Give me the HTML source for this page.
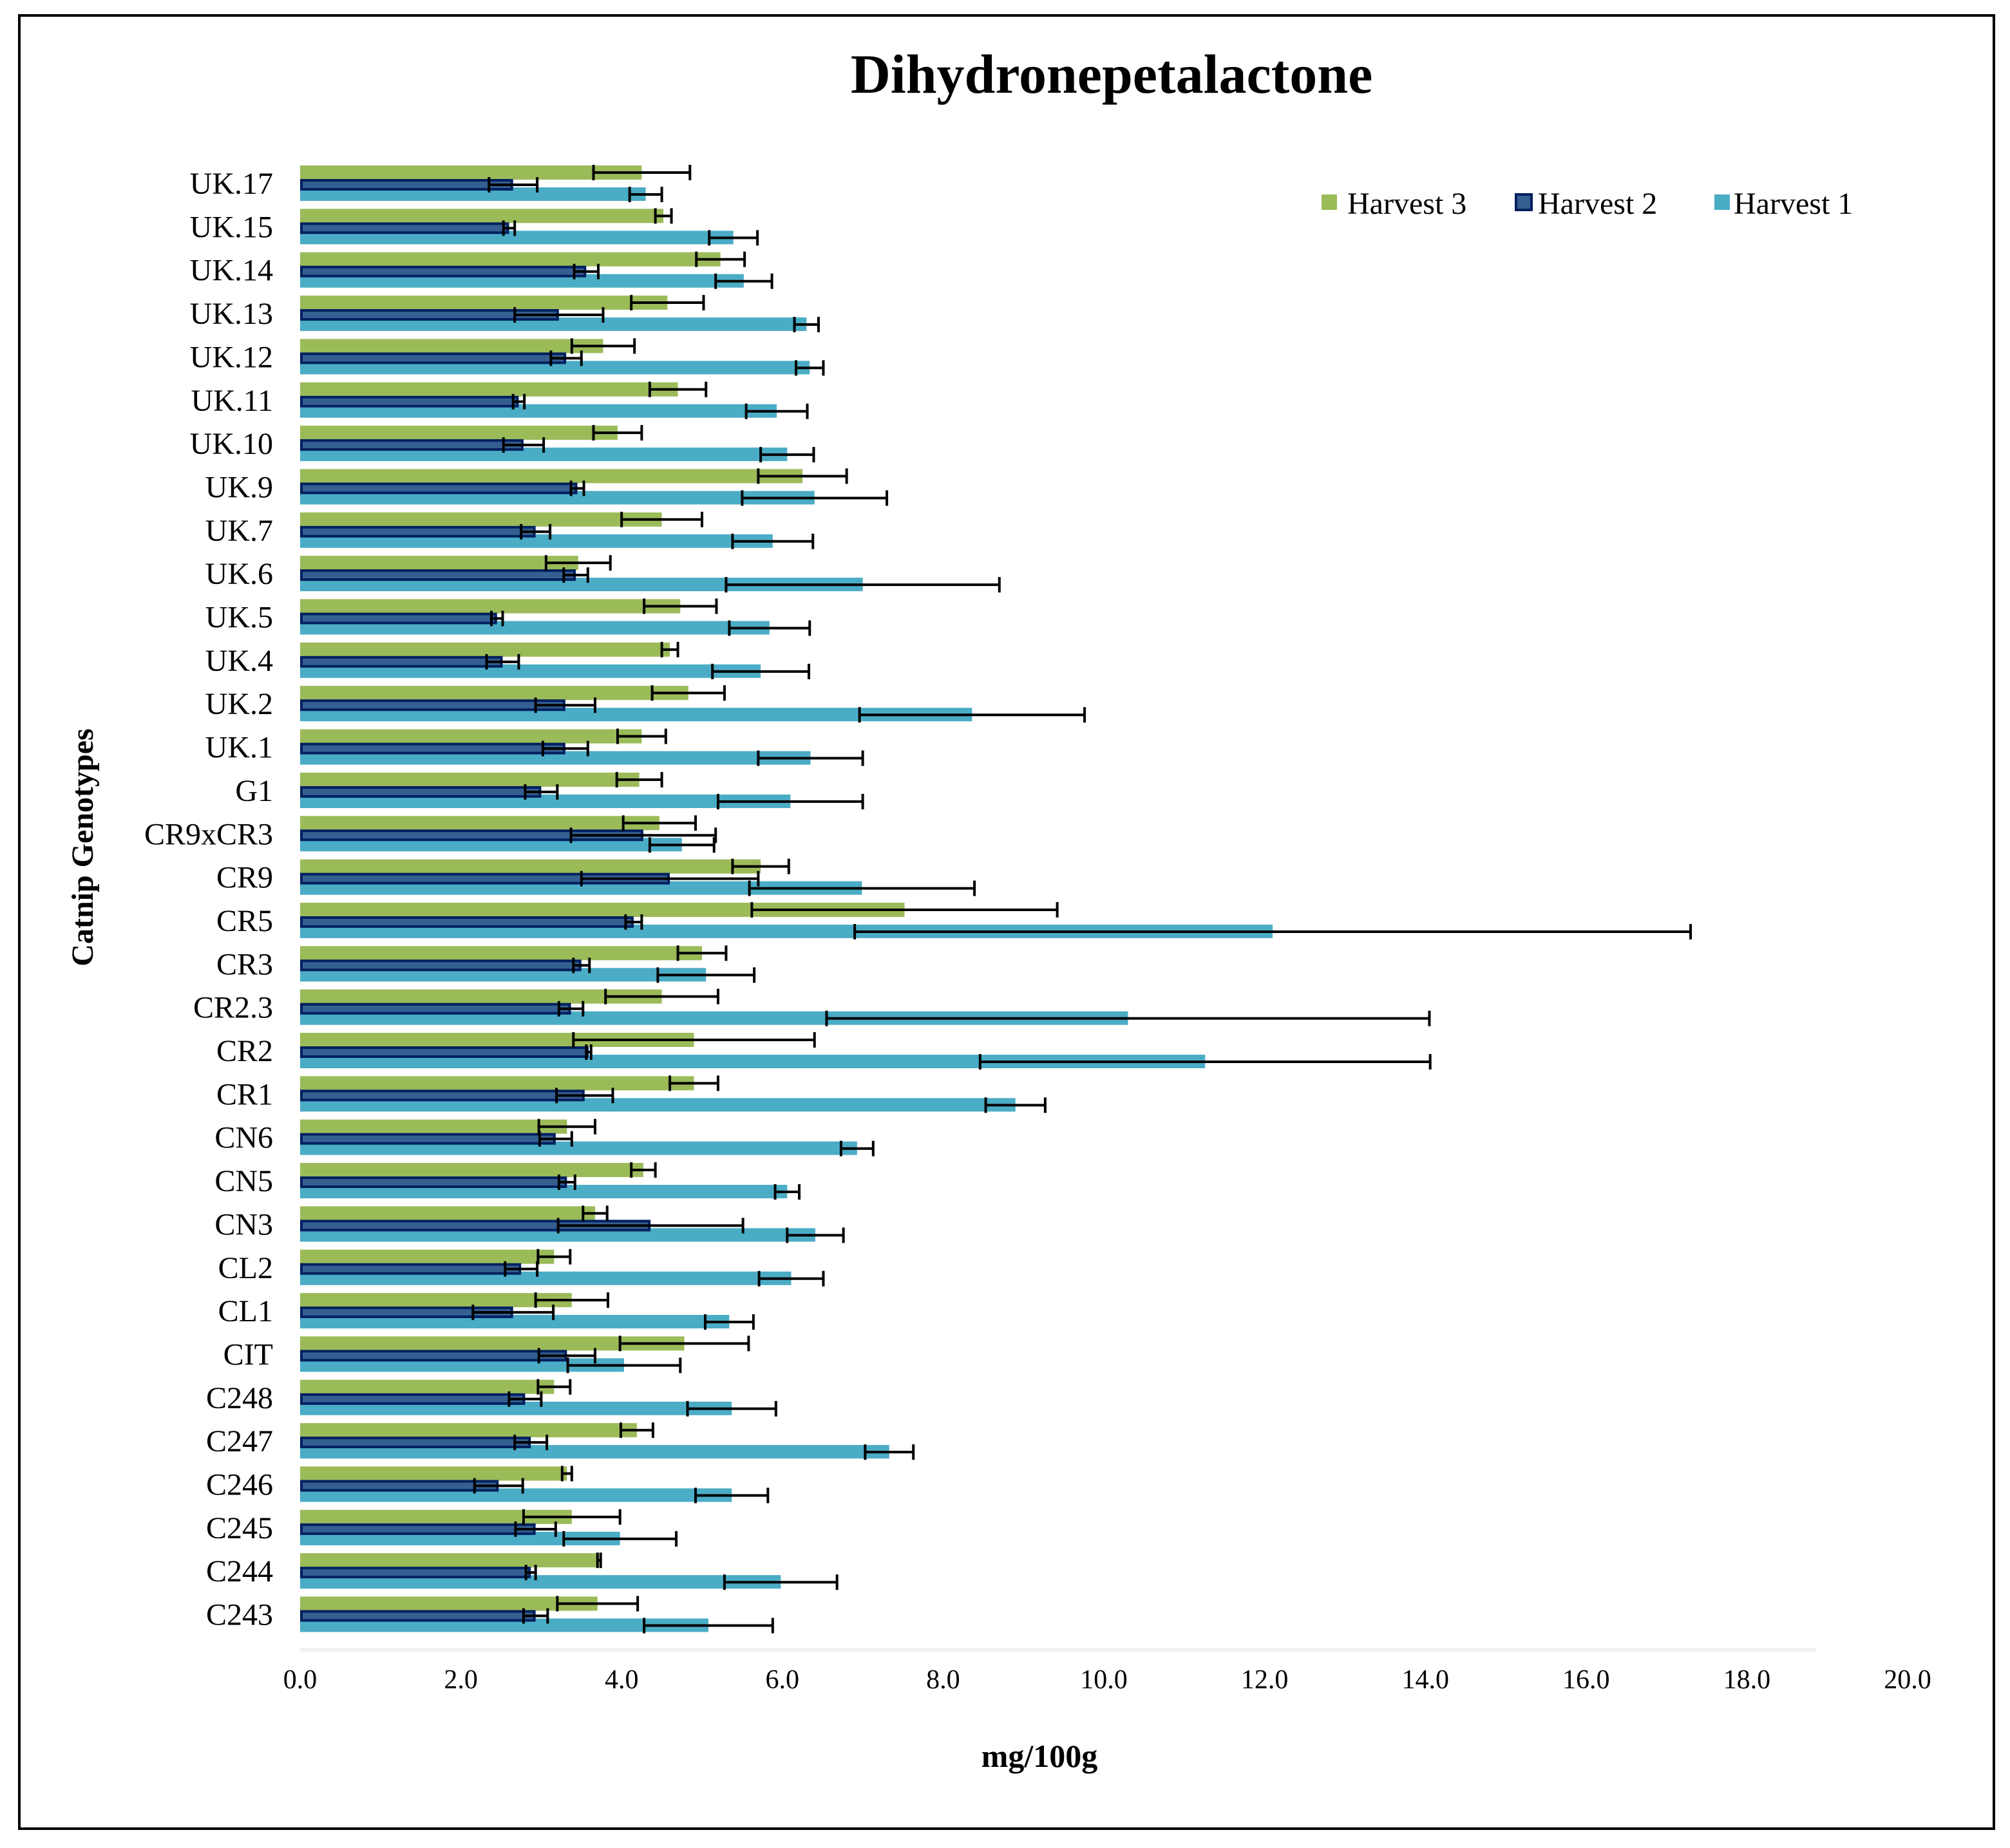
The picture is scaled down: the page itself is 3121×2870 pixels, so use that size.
<!DOCTYPE html>
<html><head><meta charset="utf-8"><style>
html,body{margin:0;padding:0;background:#fff}
svg{display:block}
text{font-family:"Liberation Serif",serif;fill:#000}
</style></head><body>
<svg id="chart" width="3121" height="2870" viewBox="0 0 3121 2870" xmlns="http://www.w3.org/2000/svg">
<rect x="30" y="24" width="3066" height="2816" fill="#fff" stroke="#000" stroke-width="4"/>
<text x="1726" y="144" font-size="86" font-weight="bold" text-anchor="middle">Dihydronepetalactone</text>
<text transform="translate(144,1316) rotate(-90)" font-size="48" font-weight="bold" text-anchor="middle">Catnip Genotypes</text>
<text x="1614" y="2744" font-size="50" font-weight="bold" text-anchor="middle">mg/100g</text>
<line x1="466" y1="2562" x2="2820" y2="2562" stroke="#f2f2f2" stroke-width="6"/>
<g id="plot"></g>
<g>
<g><rect x="2052" y="302" width="24" height="24" fill="#9bbb59"/><text x="2092" y="332" font-size="48">Harvest 3</text></g>
<g><rect x="2354" y="302" width="24" height="24" fill="#365f91" stroke="#002060" stroke-width="4"/><text x="2388" y="332" font-size="48">Harvest 2</text></g>
<g><rect x="2662" y="302" width="24" height="24" fill="#4bacc6"/><text x="2692" y="332" font-size="48">Harvest 1</text></g>
</g>
</svg>
<script>
const categories = ["UK.17","UK.15","UK.14","UK.13","UK.12","UK.11","UK.10","UK.9","UK.7","UK.6","UK.5","UK.4","UK.2","UK.1","G1","CR9xCR3","CR9","CR5","CR3","CR2.3","CR2","CR1","CN6","CN5","CN3","CL2","CL1","CIT","C248","C247","C246","C245","C244","C243"];
const harvest3 = [4.25,4.52,5.23,4.57,3.77,4.7,3.95,6.25,4.5,3.46,4.73,4.6,4.83,4.25,4.22,4.47,5.73,7.52,5.0,4.5,4.9,4.9,3.32,4.27,3.67,3.16,3.38,4.78,3.16,4.19,3.32,3.38,3.72,3.7];
const harvest3Err = [0.6,0.1,0.3,0.45,0.39,0.35,0.3,0.55,0.5,0.4,0.45,0.1,0.45,0.3,0.28,0.45,0.35,1.9,0.3,0.7,1.5,0.3,0.35,0.15,0.15,0.2,0.45,0.8,0.2,0.2,0.06,0.6,0.02,0.5];
const harvest2 = [2.65,2.6,3.56,3.22,3.31,2.72,2.78,3.45,2.93,3.43,2.45,2.52,3.3,3.3,3.0,4.27,4.6,4.15,3.5,3.37,3.59,3.54,3.18,3.32,4.36,2.75,2.65,3.32,2.8,2.87,2.47,2.93,2.87,2.93];
const harvest2Err = [0.3,0.07,0.15,0.55,0.19,0.07,0.25,0.08,0.18,0.15,0.07,0.2,0.37,0.28,0.2,0.9,1.1,0.1,0.1,0.15,0.03,0.35,0.2,0.1,1.15,0.2,0.5,0.35,0.2,0.2,0.3,0.25,0.06,0.15];
const harvest1 = [4.3,5.39,5.52,6.3,6.34,5.93,6.06,6.4,5.88,7.0,5.84,5.73,8.36,6.35,6.1,4.75,6.99,12.1,5.05,10.3,11.26,8.9,6.93,6.06,6.41,6.11,5.34,4.03,5.37,7.33,5.37,3.98,5.98,5.08];
const harvest1Err = [0.2,0.3,0.35,0.15,0.17,0.38,0.33,0.9,0.5,1.7,0.5,0.6,1.4,0.65,0.9,0.4,1.4,5.2,0.6,3.75,2.8,0.37,0.2,0.15,0.35,0.4,0.3,0.7,0.55,0.3,0.45,0.7,0.7,0.8];
const xTicks = [0,2,4,6,8,10,12,14,16,18,20];

const NS = "http://www.w3.org/2000/svg";
const plot = document.getElementById("plot");
const x0 = 466, pxPerUnit = 124.8;
const xScale = v => x0 + v * pxPerUnit;
const yFirst = 285, yStep = 67.35;
const yScale = i => yFirst + i * yStep;

function mk(tag, attrs) {
  const e = document.createElementNS(NS, tag);
  for (const k in attrs) e.setAttribute(k, attrs[k]);
  plot.appendChild(e);
  return e;
}
function errBar(v, e, cy, name) {
  const g = document.createElementNS(NS, "g");
  
  
  const a = xScale(v - e), b = xScale(v + e);
  const parts = [["line",{x1:a,y1:cy,x2:b,y2:cy,stroke:"#000","stroke-width":4}],
                 ["line",{x1:a,y1:cy-12,x2:a,y2:cy+12,stroke:"#000","stroke-width":4}],
                 ["line",{x1:b,y1:cy-12,x2:b,y2:cy+12,stroke:"#000","stroke-width":4}]];
  parts.forEach(p => { const l = document.createElementNS(NS, p[0]); for (const k in p[1]) l.setAttribute(k, p[1][k]); g.appendChild(l); });
  plot.appendChild(g);
}

xTicks.forEach(t => {
  const tx = mk("text", {x: xScale(t), y: 2622, "font-size": 42, "text-anchor": "middle"});
  tx.textContent = t.toFixed(1);
  
  
});

categories.forEach((c, i) => {
  const cy = yScale(i);
  const lbl = mk("text", {x: 424, y: cy + 16, "font-size": 48, "text-anchor": "end"});
  lbl.textContent = c;
  
  

  const l = mk("rect", {x: x0, y: cy + 6, width: harvest1[i] * pxPerUnit, height: 21, fill: "#4bacc6"});
  
  

  const g = mk("rect", {x: x0, y: cy - 28, width: harvest3[i] * pxPerUnit, height: 22, fill: "#9bbb59"});
  
  

  const b = mk("rect", {x: x0 + 2, y: cy - 5, width: harvest2[i] * pxPerUnit - 4, height: 14, fill: "#365f91", stroke: "#002060", "stroke-width": 4});
  
  

  errBar(harvest3[i], harvest3Err[i], cy - 17, 'error-bar-harvest-3');
  errBar(harvest2[i], harvest2Err[i], cy + 2, 'error-bar-harvest-2');
  errBar(harvest1[i], harvest1Err[i], cy + 17, 'error-bar-harvest-1');
});
</script>
</body></html>
